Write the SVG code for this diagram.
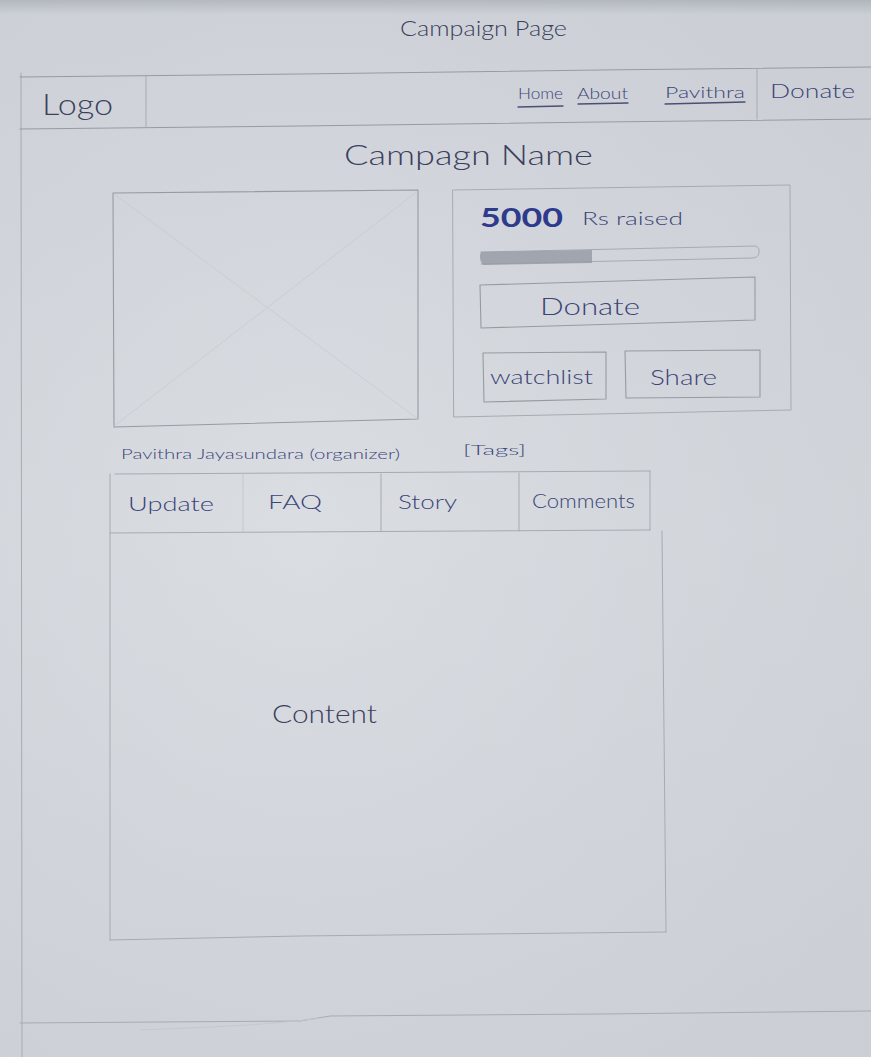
<svg xmlns="http://www.w3.org/2000/svg" width="871" height="1057" viewBox="0 0 871 1057">
  <defs>
    <linearGradient id="paper" x1="0" y1="0" x2="0" y2="1">
      <stop offset="0" stop-color="#a9adb4"/>
      <stop offset="0.014" stop-color="#cfd3d9"/>
      <stop offset="0.5" stop-color="#d5d9de"/>
      <stop offset="1" stop-color="#cfd3d9"/>
    </linearGradient>
    <radialGradient id="sheen" cx="0.35" cy="0.5" r="0.75">
      <stop offset="0" stop-color="#e2e5ea" stop-opacity="0.4"/>
      <stop offset="1" stop-color="#c2c6cd" stop-opacity="0.3"/>
    </radialGradient>
  </defs>
  <style>
    .pen { fill: none; stroke: #969ba3; stroke-width: 1.1; stroke-linecap: round; stroke-linejoin: round; }
    .soft { fill: none; stroke: #a6abb3; stroke-width: 1; stroke-linecap: round; }
    .ghost { fill: none; stroke: #c3c7cd; stroke-width: 0.9; stroke-linecap: round; }
    .hand { font-family: "Lato", "Open Sans", sans-serif; font-weight: 300; fill: #3b405c; }
    .ink { fill: #3c4478; }
    .navline { fill: none; stroke: #4a4f75; stroke-width: 1.3; stroke-linecap: round; }
  </style>

  <!-- paper -->
  <rect x="0" y="0" width="871" height="1057" fill="url(#paper)"/>
  <rect x="0" y="0" width="871" height="1057" fill="url(#sheen)"/>

  <!-- page title -->
  <g id="page-title">
    <text class="hand" x="400" y="36" font-size="22" textLength="167" lengthAdjust="spacingAndGlyphs">Campaign Page</text>
  </g>

  <!-- page frame -->
  <g id="frame">
    <path class="soft" d="M21 73 L22 1057"/>
    <path class="soft" d="M20 1023 L300 1021 L330 1016 L600 1014 L871 1011"/>
    <path class="ghost" d="M140 1030 C220 1027 280 1024 320 1018"/>
  </g>

  <!-- header bar -->
  <g id="header">
    <path class="pen" d="M20 77 L300 74 L600 70 L871 67"/>
    <path class="pen" d="M20 129 L300 126 L600 122 L871 119"/>
    <path class="soft" d="M146 76 L146 127"/>
    <path class="soft" d="M757 69 L757 119"/>
    <text class="hand" x="42" y="115" font-size="30" textLength="71" lengthAdjust="spacingAndGlyphs" fill="#34384c">Logo</text>
    <g id="nav">
      <text class="hand ink" x="518" y="99" font-size="16" textLength="45" lengthAdjust="spacingAndGlyphs">Home</text>
      <path class="navline" d="M518 107 L563 106"/>
      <text class="hand ink" x="577" y="99" font-size="16" textLength="51" lengthAdjust="spacingAndGlyphs">About</text>
      <path class="navline" d="M578 104 L628 103"/>
      <text class="hand ink" x="665" y="98" font-size="16" textLength="80" lengthAdjust="spacingAndGlyphs">Pavithra</text>
      <path class="navline" d="M665 104 L745 102"/>
      <text class="hand ink" x="770" y="98" font-size="20" textLength="85" lengthAdjust="spacingAndGlyphs">Donate</text>
    </g>
  </g>

  <!-- campaign heading -->
  <g id="campaign-name">
    <text class="hand" x="344" y="165" font-size="27" textLength="249" lengthAdjust="spacingAndGlyphs" fill="#454a68">Campagn Name</text>
  </g>

  <!-- image placeholder -->
  <g id="image-placeholder">
    <path class="pen" d="M113 193 L418 190 L418 419 L114 427 Z"/>
    <path class="ghost" d="M114 194 L418 419 M418 191 L114 426" opacity="0.7"/>
  </g>

  <!-- donation panel -->
  <g id="donation-panel">
    <path class="soft" d="M453 190 L790 185 L791 410 L454 417 Z"/>
    <text x="480" y="227" font-family="Lato, 'Open Sans', sans-serif" font-weight="700" font-size="27" fill="#2e3a8c" textLength="83" lengthAdjust="spacingAndGlyphs">5000</text>
    <text class="hand ink" x="582" y="225" font-size="17" textLength="101" lengthAdjust="spacingAndGlyphs">Rs raised</text>
    <g id="progress-bar">
      <path class="soft" d="M481 252 L755 246 Q760 247 759 253 Q758 258 752 258 L481 264"/>
      <path d="M481 252 L592 250 L592 263 L483 265 Q478 259 481 252 Z" fill="#959aa2" opacity="0.8"/>
    </g>
    <g id="donate-button">
      <path class="pen" d="M480 285 L755 277 L755 320 L481 328 Z"/>
      <text class="hand ink" x="540" y="315" font-size="24" textLength="100" lengthAdjust="spacingAndGlyphs">Donate</text>
    </g>
    <g id="watchlist-button">
      <path class="pen" d="M483 353 L606 352 L606 399 L484 402 Z"/>
      <text class="hand ink" x="490" y="384" font-size="20" textLength="103" lengthAdjust="spacingAndGlyphs">watchlist</text>
    </g>
    <g id="share-button">
      <path class="pen" d="M625 351 L760 350 L760 397 L626 398 Z"/>
      <text class="hand ink" x="650" y="385" font-size="21" textLength="67" lengthAdjust="spacingAndGlyphs">Share</text>
    </g>
  </g>

  <!-- organizer and tags -->
  <g id="organizer">
    <text class="hand ink" x="121" y="459" font-size="14" textLength="279" lengthAdjust="spacingAndGlyphs">Pavithra Jayasundara (organizer)</text>
  </g>
  <g id="tags">
    <text class="hand ink" x="463" y="455" font-size="14" textLength="63" lengthAdjust="spacingAndGlyphs">[Tags]</text>
  </g>

  <!-- tab strip -->
  <g id="tabs">
    <path class="soft" d="M115 474 L650 471"/>
    <path class="soft" d="M110 533 L650 530"/>
    <path class="soft" d="M650 471 L650 530"/>
    <path class="ghost" d="M243 474 L243 532"/>
    <path class="soft" d="M381 474 L381 531"/>
    <path class="soft" d="M519 473 L519 531"/>
    <text class="hand ink" x="128" y="511" font-size="20" textLength="86" lengthAdjust="spacingAndGlyphs">Update</text>
    <text class="hand ink" x="268" y="509" font-size="19" textLength="54" lengthAdjust="spacingAndGlyphs">FAQ</text>
    <text class="hand ink" x="398" y="509" font-size="20" textLength="59" lengthAdjust="spacingAndGlyphs">Story</text>
    <text class="hand ink" x="532" y="508" font-size="19" textLength="103" lengthAdjust="spacingAndGlyphs">Comments</text>
  </g>

  <!-- content area -->
  <g id="content">
    <path class="soft" d="M110 474 L110 940"/>
    <path class="soft" d="M110 940 L300 936 L666 932"/>
    <path class="soft" d="M662 531 L666 932"/>
    <text class="hand" x="272" y="723" font-size="26" textLength="105" lengthAdjust="spacingAndGlyphs" fill="#3a3e55">Content</text>
  </g>
</svg>
